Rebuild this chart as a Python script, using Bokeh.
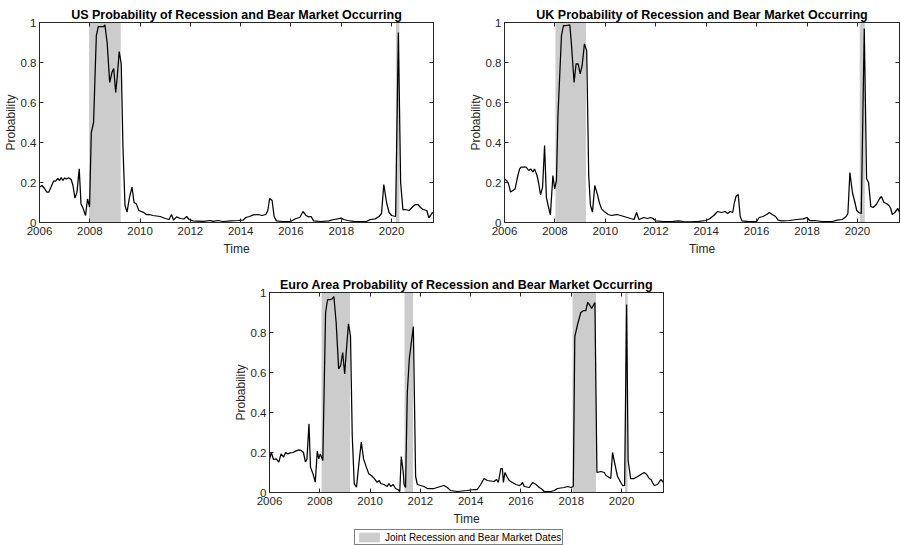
from bokeh.plotting import figure
from bokeh.models import Range1d, LinearAxis, FixedTicker, Legend, LegendItem, Spacer
from bokeh.layouts import row, column
from bokeh.embed import file_html
from bokeh.resources import INLINE

# ---------------- data ----------------
x_ticks = [2006, 2008, 2010, 2012, 2014, 2016, 2018, 2020]
x_tick_labels = ["2006", "2008", "2010", "2012", "2014", "2016", "2018", "2020"]
y_ticks = [0, 0.2, 0.4, 0.6, 0.8, 1]
y_tick_labels = ["0", "0.2", "0.4", "0.6", "0.8", "1"]
x_limits = (2006.0, 2021.667)
y_limits = (0.0, 1.0)

titles = ["US Probability of Recession and Bear Market Occurring",
          "UK Probability of Recession and Bear Market Occurring",
          "Euro Area Probability of Recession and Bear Market Occurring"]
legend_label = "Joint Recession and Bear Market Dates"

# (decimal year, probability)
us_series = [
    (2006.00, 0.177), (2006.10, 0.185), (2006.20, 0.170), (2006.29, 0.152), (2006.37, 0.152),
    (2006.46, 0.177), (2006.56, 0.207), (2006.64, 0.207), (2006.73, 0.220), (2006.80, 0.210),
    (2006.86, 0.225), (2006.93, 0.210), (2007.00, 0.223), (2007.06, 0.218), (2007.17, 0.223),
    (2007.26, 0.215), (2007.33, 0.185), (2007.41, 0.122), (2007.49, 0.152), (2007.58, 0.268),
    (2007.65, 0.093), (2007.73, 0.072), (2007.83, 0.035), (2007.91, 0.118), (2007.99, 0.077),
    (2008.06, 0.450), (2008.15, 0.500), (2008.26, 0.935), (2008.34, 0.980), (2008.45, 0.980),
    (2008.55, 0.980), (2008.60, 0.988), (2008.69, 0.900), (2008.79, 0.700), (2008.88, 0.750),
    (2008.95, 0.770), (2009.03, 0.650), (2009.09, 0.727), (2009.17, 0.855), (2009.25, 0.793),
    (2009.32, 0.370), (2009.40, 0.085), (2009.48, 0.052), (2009.58, 0.127), (2009.68, 0.177),
    (2009.76, 0.100), (2009.85, 0.093), (2009.95, 0.060), (2010.11, 0.052), (2010.25, 0.040),
    (2010.37, 0.040), (2010.50, 0.035), (2010.80, 0.030), (2011.00, 0.020), (2011.15, 0.015),
    (2011.25, 0.040), (2011.33, 0.012), (2011.45, 0.028), (2011.60, 0.020), (2011.75, 0.018),
    (2011.85, 0.030), (2011.95, 0.015), (2012.10, 0.008), (2012.50, 0.006), (2012.80, 0.010),
    (2012.90, 0.006), (2013.10, 0.010), (2013.30, 0.005), (2013.60, 0.008), (2013.90, 0.010),
    (2014.10, 0.012), (2014.20, 0.025), (2014.35, 0.030), (2014.50, 0.038), (2014.70, 0.040),
    (2014.85, 0.035), (2015.00, 0.040), (2015.08, 0.060), (2015.15, 0.120), (2015.25, 0.110),
    (2015.33, 0.030), (2015.42, 0.008), (2015.70, 0.005), (2016.00, 0.006), (2016.20, 0.020),
    (2016.35, 0.025), (2016.48, 0.055), (2016.60, 0.035), (2016.70, 0.028), (2016.80, 0.030),
    (2016.90, 0.008), (2017.20, 0.005), (2017.50, 0.008), (2017.70, 0.015), (2017.85, 0.018),
    (2018.00, 0.022), (2018.10, 0.015), (2018.25, 0.010), (2018.50, 0.006), (2018.80, 0.004),
    (2019.00, 0.005), (2019.15, 0.015), (2019.35, 0.018), (2019.50, 0.030), (2019.60, 0.045),
    (2019.69, 0.190), (2019.80, 0.100), (2019.90, 0.050), (2020.00, 0.035), (2020.16, 0.030),
    (2020.27, 0.950), (2020.36, 0.200), (2020.45, 0.065), (2020.55, 0.065), (2020.70, 0.060),
    (2020.85, 0.080), (2020.95, 0.090), (2021.05, 0.090), (2021.15, 0.075), (2021.25, 0.065),
    (2021.40, 0.060), (2021.48, 0.025), (2021.55, 0.035), (2021.62, 0.050), (2021.667, 0.045),
]

uk_series = [
    (2006.00, 0.218), (2006.08, 0.210), (2006.16, 0.193), (2006.24, 0.152), (2006.33, 0.160),
    (2006.42, 0.168), (2006.53, 0.235), (2006.60, 0.268), (2006.66, 0.277), (2006.77, 0.277),
    (2006.86, 0.277), (2006.96, 0.260), (2007.04, 0.268), (2007.13, 0.252), (2007.19, 0.268),
    (2007.29, 0.235), (2007.35, 0.200), (2007.43, 0.138), (2007.51, 0.177), (2007.59, 0.385),
    (2007.66, 0.127), (2007.73, 0.085), (2007.82, 0.038), (2007.92, 0.235), (2007.99, 0.168),
    (2008.06, 0.210), (2008.12, 0.535), (2008.26, 0.935), (2008.34, 0.985), (2008.45, 0.985),
    (2008.59, 0.988), (2008.65, 0.900), (2008.76, 0.700), (2008.84, 0.793), (2008.92, 0.793),
    (2009.00, 0.743), (2009.08, 0.785), (2009.17, 0.893), (2009.26, 0.860), (2009.34, 0.235),
    (2009.41, 0.085), (2009.49, 0.052), (2009.58, 0.185), (2009.68, 0.143), (2009.76, 0.100),
    (2009.85, 0.068), (2009.98, 0.052), (2010.11, 0.040), (2010.25, 0.035), (2010.37, 0.038),
    (2010.47, 0.040), (2010.74, 0.030), (2010.87, 0.025), (2011.00, 0.020), (2011.14, 0.015),
    (2011.24, 0.050), (2011.33, 0.015), (2011.43, 0.020), (2011.53, 0.025), (2011.67, 0.020),
    (2011.80, 0.025), (2011.89, 0.020), (2012.00, 0.008), (2012.30, 0.005), (2012.70, 0.006),
    (2012.90, 0.008), (2013.10, 0.005), (2013.40, 0.003), (2013.70, 0.006), (2014.00, 0.010),
    (2014.15, 0.020), (2014.30, 0.035), (2014.45, 0.055), (2014.60, 0.050), (2014.75, 0.055),
    (2014.85, 0.045), (2014.95, 0.055), (2015.05, 0.050), (2015.12, 0.100), (2015.18, 0.130),
    (2015.27, 0.140), (2015.35, 0.030), (2015.42, 0.008), (2015.70, 0.004), (2016.00, 0.005),
    (2016.10, 0.025), (2016.25, 0.030), (2016.40, 0.040), (2016.50, 0.050), (2016.62, 0.040),
    (2016.75, 0.030), (2016.85, 0.012), (2017.00, 0.008), (2017.30, 0.010), (2017.60, 0.015),
    (2017.85, 0.018), (2018.00, 0.025), (2018.10, 0.010), (2018.30, 0.010), (2018.60, 0.005),
    (2019.00, 0.005), (2019.20, 0.012), (2019.40, 0.015), (2019.55, 0.030), (2019.62, 0.045),
    (2019.70, 0.250), (2019.80, 0.150), (2019.90, 0.100), (2019.97, 0.060), (2020.05, 0.050),
    (2020.15, 0.045), (2020.27, 0.970), (2020.36, 0.220), (2020.44, 0.200), (2020.53, 0.080),
    (2020.62, 0.075), (2020.75, 0.090), (2020.88, 0.120), (2020.95, 0.130), (2021.05, 0.100),
    (2021.15, 0.095), (2021.25, 0.085), (2021.32, 0.070), (2021.38, 0.040), (2021.48, 0.050),
    (2021.60, 0.070), (2021.667, 0.050),
]

ea_series = [
    (2006.00, 0.165), (2006.07, 0.200), (2006.16, 0.165), (2006.27, 0.168), (2006.37, 0.152),
    (2006.46, 0.193), (2006.56, 0.177), (2006.64, 0.200), (2006.73, 0.193), (2006.82, 0.198),
    (2006.93, 0.200), (2007.04, 0.207), (2007.17, 0.213), (2007.26, 0.210), (2007.35, 0.200),
    (2007.43, 0.152), (2007.49, 0.168), (2007.57, 0.343), (2007.63, 0.127), (2007.73, 0.093),
    (2007.82, 0.052), (2007.90, 0.207), (2007.96, 0.168), (2008.02, 0.193), (2008.12, 0.160),
    (2008.23, 0.900), (2008.31, 0.965), (2008.42, 0.965), (2008.49, 0.968), (2008.56, 0.980),
    (2008.65, 0.850), (2008.75, 0.618), (2008.83, 0.635), (2008.91, 0.700), (2008.99, 0.593),
    (2009.05, 0.700), (2009.14, 0.843), (2009.22, 0.785), (2009.29, 0.285), (2009.37, 0.043),
    (2009.46, 0.027), (2009.56, 0.152), (2009.65, 0.252), (2009.74, 0.168), (2009.85, 0.127),
    (2009.95, 0.093), (2010.05, 0.085), (2010.18, 0.068), (2010.27, 0.052), (2010.37, 0.060),
    (2010.42, 0.045), (2010.55, 0.040), (2010.68, 0.030), (2010.75, 0.045), (2010.82, 0.030),
    (2010.92, 0.040), (2011.01, 0.020), (2011.10, 0.015), (2011.18, 0.005), (2011.24, 0.180),
    (2011.32, 0.100), (2011.35, 0.040), (2011.41, 0.025), (2011.48, 0.500), (2011.56, 0.670),
    (2011.64, 0.750), (2011.72, 0.830), (2011.81, 0.080), (2011.88, 0.040), (2012.01, 0.035),
    (2012.14, 0.030), (2012.28, 0.020), (2012.54, 0.020), (2012.80, 0.030), (2012.94, 0.035),
    (2013.07, 0.025), (2013.20, 0.010), (2013.47, 0.005), (2013.86, 0.010), (2014.13, 0.015),
    (2014.26, 0.015), (2014.40, 0.040), (2014.53, 0.070), (2014.66, 0.060), (2014.93, 0.055),
    (2015.03, 0.065), (2015.10, 0.050), (2015.20, 0.120), (2015.26, 0.120), (2015.30, 0.050),
    (2015.36, 0.100), (2015.44, 0.080), (2015.53, 0.060), (2015.66, 0.050), (2015.80, 0.040),
    (2015.93, 0.035), (2016.00, 0.040), (2016.06, 0.050), (2016.13, 0.030), (2016.33, 0.025),
    (2016.46, 0.050), (2016.60, 0.040), (2016.73, 0.025), (2016.85, 0.015), (2016.92, 0.005),
    (2017.19, 0.005), (2017.32, 0.010), (2017.45, 0.020), (2017.72, 0.025), (2017.85, 0.030),
    (2017.99, 0.025), (2018.08, 0.030), (2018.14, 0.780), (2018.25, 0.840), (2018.38, 0.900),
    (2018.49, 0.910), (2018.58, 0.910), (2018.65, 0.950), (2018.72, 0.940), (2018.81, 0.920),
    (2018.94, 0.950), (2019.02, 0.100), (2019.18, 0.105), (2019.31, 0.100), (2019.38, 0.085),
    (2019.57, 0.070), (2019.64, 0.200), (2019.77, 0.120), (2019.84, 0.080), (2019.97, 0.050),
    (2020.04, 0.035), (2020.12, 0.035), (2020.20, 0.940), (2020.26, 0.160), (2020.36, 0.070),
    (2020.50, 0.070), (2020.64, 0.080), (2020.77, 0.090), (2020.90, 0.100), (2021.00, 0.090),
    (2021.10, 0.070), (2021.17, 0.065), (2021.23, 0.050), (2021.30, 0.035), (2021.43, 0.040),
    (2021.56, 0.065), (2021.667, 0.050),
]

# joint recession & bear market periods (start, end)
us_shade = [(2007.97, 2009.23), (2020.17, 2020.31)]
uk_shade = [(2008.02, 2009.23), (2020.09, 2020.29)]
ea_shade = [(2008.07, 2009.20), (2011.37, 2011.71), (2018.05, 2018.98), (2020.14, 2020.24)]

# ---------------- styling ----------------
FONT = "Liberation Sans"
TXT = "#262626"
SHADE = "#cccccc"


def style_axis(ax, ticks, labels=None, label_standoff=4, title_standoff=4):
    ax.ticker = FixedTicker(ticks=ticks)
    ax.major_tick_in = 4
    ax.major_tick_out = 0
    ax.minor_tick_line_color = None
    ax.major_tick_line_color = TXT
    ax.axis_line_color = TXT
    if labels is not None:
        ax.major_label_overrides = dict(zip(ticks, labels))
        ax.major_label_text_font = FONT
        ax.major_label_text_font_size = "11.5px"
        ax.major_label_text_color = TXT
        ax.major_label_standoff = label_standoff
        ax.axis_label_text_font = FONT
        ax.axis_label_text_font_size = "12px"
        ax.axis_label_text_font_style = "normal"
        ax.axis_label_text_color = TXT
        ax.axis_label_standoff = title_standoff
    else:
        ax.major_label_text_font_size = "1px"
        ax.major_label_text_color = None
        ax.major_label_standoff = 0


def make_panel(title, series, shades, width, height, left, right, top, bottom):
    p = figure(width=width, height=height,
               x_range=Range1d(*x_limits), y_range=Range1d(*y_limits),
               output_backend="svg", toolbar_location=None,
               min_border_left=left, min_border_right=right,
               min_border_top=top, min_border_bottom=bottom,
               background_fill_color="white", border_fill_color="white")
    p.title.text = title
    p.title.text_font = FONT
    p.title.text_font_size = "12.5px"
    p.title.text_font_style = "bold"
    p.title.text_color = "black"
    p.title.align = "center"
    p.title.standoff = 1
    p.xgrid.visible = False
    p.ygrid.visible = False
    p.outline_line_color = TXT
    p.outline_line_width = 1

    style_axis(p.xaxis[0], x_ticks, x_tick_labels, 4, 4)
    style_axis(p.yaxis[0], y_ticks, y_tick_labels, 3, 0)
    p.xaxis[0].axis_label = "Time"
    p.yaxis[0].axis_label = "Probability"

    top_ax = LinearAxis()
    style_axis(top_ax, x_ticks)
    p.add_layout(top_ax, "above")
    right_ax = LinearAxis()
    style_axis(right_ax, y_ticks)
    p.add_layout(right_ax, "right")

    starts = [s for s, e in shades]
    ends = [e for s, e in shades]
    shade_r = p.quad(left=starts, right=ends, bottom=y_limits[0], top=y_limits[1],
                     fill_color=SHADE, line_color=None)
    t = [a for a, b in series]
    v = [b for a, b in series]
    p.line(t, v, line_color="black", line_width=1.25)
    return p, shade_r


# frames: US x 39-433, UK x 504-899, EA x 269-663; rows y 22-222 and 292-492
p1, _ = make_panel(titles[0], us_series, us_shade, 465, 258, 39, 32, 22, 36)
p2, _ = make_panel(titles[1], uk_series, uk_shade, 436, 258, 39, 2, 22, 36)
p3, _ = make_panel(titles[2], ea_series, ea_shade, 673, 271, 269, 10, 34, 37)

# legend strip under the euro-area panel (its shade quads lie outside this strip's range,
# only the legend swatch of the renderer is shown)
p4 = figure(width=216, height=16, output_backend="svg", toolbar_location=None,
            x_axis_type=None, y_axis_type=None, min_border=0,
            x_range=Range1d(0, 1), y_range=Range1d(*y_limits),
            outline_line_color=None, background_fill_color="white",
            border_fill_color="white")
swatch = p4.quad(left=[s for s, e in ea_shade], right=[e for s, e in ea_shade],
                 bottom=y_limits[0], top=y_limits[1], fill_color=SHADE, line_color=None)
legend = Legend(items=[LegendItem(label=legend_label, renderers=[swatch])],
                location="top_left", orientation="horizontal",
                border_line_color="black", border_line_width=1,
                background_fill_color="white", background_fill_alpha=1.0,
                label_text_font=FONT, label_text_font_size="10px",
                label_text_color="black",
                glyph_width=26, glyph_height=12, label_height=12,
                padding=1, spacing=0, margin=0, label_standoff=3)
p4.add_layout(legend, "center")

layout = column(row(p1, p2), p3, row(Spacer(width=354, height=16), p4))
open("out.html", "w").write(file_html(layout, INLINE))
